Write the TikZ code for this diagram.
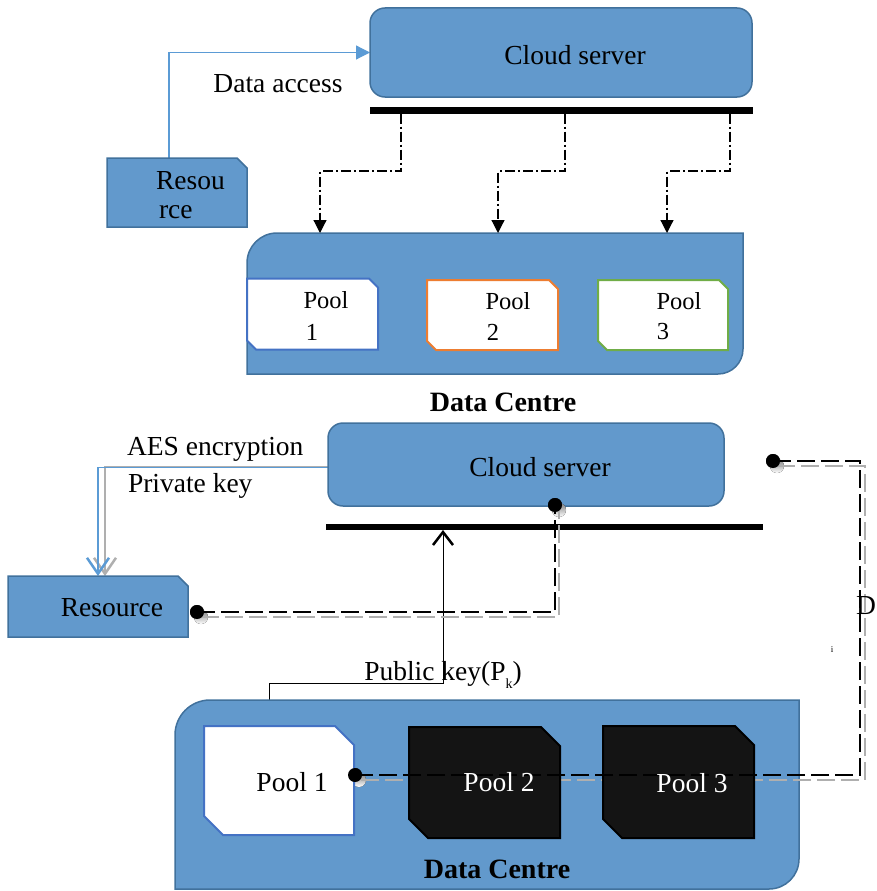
\documentclass[tikz,border=0pt]{standalone}
\usepackage{fontspec}
\setmainfont{Liberation Serif}
\usetikzlibrary{arrows.meta,calc}
\definecolor{boxfill}{RGB}{98,153,204}
\definecolor{boxline}{RGB}{65,113,156}
\definecolor{linkblue}{RGB}{91,155,213}
\definecolor{poolblue}{RGB}{68,114,196}
\definecolor{poolorange}{RGB}{237,125,49}
\definecolor{poolgreen}{RGB}{112,173,71}
\definecolor{poolblack}{RGB}{20,20,20}
\definecolor{shade}{RGB}{175,175,175}
\newcommand\snipNE[3]{\path[#3] (#1.north west) -- ([xshift=-#2]#1.north east) -- ([yshift=-#2]#1.north east) -- (#1.south east) -- (#1.south west) -- cycle;}
\newcommand\snipTwo[3]{\path[#3] (#1.north west) -- ([xshift=-#2]#1.north east) -- ([yshift=-#2]#1.north east) -- (#1.south east) -- ([xshift=#2]#1.south west) -- ([yshift=#2]#1.south west) -- cycle;}
\begin{document}
\begin{tikzpicture}[x=1pt,y=-1pt,
  every node/.style={inner sep=0pt, outer sep=0pt, font=\fontsize{27.5}{30}\selectfont},
  area/.style 2 args={minimum width=#1pt, minimum height=#2pt},
  serverbox/.style={draw=boxline, fill=boxfill, line width=1.5pt, rounded corners=15pt},
  barbox/.style={fill=black, draw=none},
  shapefill/.style={draw=boxline, fill=boxfill, line width=1.5pt},
  ddlink/.style={line width=1.2pt, dash pattern=on 10pt off 3pt on 2pt off 3pt, -{Triangle[length=13pt,width=13pt]}},
  bluelink/.style={draw=linkblue, line width=1.2pt, -{Triangle[length=14pt,width=14pt]}},
  aeslink/.style={draw=linkblue, line width=1.3pt, -{Straight Barb[length=16pt,width=22pt,line width=2.5pt]}},
  aesshadow/.style={draw=shade, line width=1.3pt, -{Straight Barb[length=16pt,width=22pt,line width=2.5pt]}},
  pklink/.style={draw=black, line width=1pt, -{Straight Barb[length=13pt,width=20pt,line width=2.5pt]}},
  dline/.style={line width=2.3pt, dash pattern=on 18pt off 6pt},
  dshadow/.style={dline, draw=shade},
  dot/.style={circle, fill=black, minimum size=14pt},
  smalltext/.style={font=\fontsize{24.5}{28}\selectfont},
  boldtext/.style={font=\fontsize{28}{32}\selectfont\bfseries}
]
\useasboundingbox (0,0) rectangle (876,891);

% ---------------- TOP PART ----------------
\node[area={382}{89}] (cs1) at (561,52.5) {};
\node[area={140}{69}] (res1) at (177,192.5) {};
\draw[bluelink] ([xshift=-8pt]res1.north) |- (cs1.west);
\path[serverbox] (cs1.north west) rectangle (cs1.south east);
\node (cs1t) at (575,55) {Cloud server};
\node (da) at (278,84) {Data access};
\snipNE{res1}{10pt}{shapefill}
\node[anchor=west] (r1a) at (156,181) {Resou};
\node[anchor=west] (r1b) at (159,212) {rce};

\node[barbox, area={383}{7}] (bar1) at (561.5,110) {};

\node[area={496}{141}] (dc1) at (495,303.5) {};
\path[shapefill] (dc1.west) [rounded corners=30pt] -- (dc1.north west) -- (dc1.north) [sharp corners] -- (dc1.north east) -- (dc1.east) [rounded corners=25pt] -- (dc1.south east) -- (dc1.south) [sharp corners] -- (dc1.south west) -- cycle;

\coordinate (k1) at (401,171); \coordinate (k1e) at (320,171);
\coordinate (k2) at (565,171); \coordinate (k2e) at (498,171);
\coordinate (k3) at (730,171); \coordinate (k3e) at (667,171);
\draw[ddlink] (bar1.south -| k1) -- (k1) -- (k1e) -- (k1e |- dc1.north);
\draw[ddlink] (bar1.south -| k2) -- (k2) -- (k2e) -- (k2e |- dc1.north);
\draw[ddlink] (bar1.south -| k3) -- (k3) -- (k3e) -- (k3e |- dc1.north);

\node[area={131}{71}] (p1) at (312.5,314) {};
\node[area={131}{70}] (p2) at (492.5,315) {};
\node[area={130}{70}] (p3) at (663,315) {};
\snipTwo{p1}{9pt}{draw=poolblue, fill=white, line width=2pt}
\snipTwo{p2}{9pt}{draw=poolorange, fill=white, line width=2pt}
\snipTwo{p3}{9pt}{draw=poolgreen, fill=white, line width=2pt}
\node[smalltext] (p1a) at (326,300) {Pool};
\node[smalltext] (p1b) at (312,332) {1};
\node[smalltext] (p2a) at (508,301) {Pool};
\node[smalltext] (p2b) at (493,332) {2};
\node[smalltext] (p3a) at (679,301) {Pool};
\node[smalltext] (p3b) at (663,332) {3};
\node[boldtext] (dct1) at (503,402) {Data Centre};

% ---------------- BOTTOM PART ----------------
\node[area={396}{83}] (cs2) at (526,464.5) {};
\node[area={180}{61}] (res2) at (98,606.5) {};
\node[barbox, area={437}{6}] (bar2) at (544.5,527) {};
\node[area={624}{189}] (dc2) at (487,794.5) {};

% AES link with shadow
\draw[aesshadow] ([shift={(7pt,-2pt)}]cs2.west) -| ([xshift=7pt]res2.north);
\draw[aeslink] ([yshift=-3pt]cs2.west) -| (res2.north);

\path[serverbox] (cs2.north west) rectangle (cs2.south east);
\node (cs2t) at (540,467) {Cloud server};
\node[anchor=west] (aes) at (127,449) {AES encryption};
\node[anchor=west] (pk) at (128,486) {Private key};
\snipNE{res2}{10pt}{shapefill}
\node (r2t) at (112,608) {Resource};

% Public key link
\node[area={150}{109}] (bp1) at (279,780.5) {};
\coordinate (pkbend) at (443,683);
\draw[pklink] ([xshift=-10pt]bp1.north) |- (pkbend) -- (pkbend |- bar2.south);
\node (pklabel) at (443,675) {Public key(P\raisebox{-8pt}{\fontsize{14}{14}\selectfont k})};

% Resource <-> Cloud server dashed link
\node[dot] (dotA) at (197,612) {};
\node[dot] (dotB) at (555,505) {};
\coordinate (cA) at (555,612);
\fill[shade] ([shift={(4pt,-5pt)}]dotA.center) circle (7pt);
\fill[shade] ([shift={(4pt,-5pt)}]dotB.center) circle (7pt);
\draw[dshadow] ([shift={(4pt,-5pt)}]dotA.center) -- ([shift={(4pt,-5pt)}]cA) -- ([shift={(4pt,-5pt)}]dotB.center);
\draw[dline] (dotA.center) -- (cA) -- (dotB.center);
\node[dot] at (dotA) {};
\node[dot] at (dotB) {};

% Data centre
\path[shapefill] (dc2.west) [rounded corners=35pt] -- (dc2.north west) -- (dc2.north) [sharp corners] -- (dc2.north east) -- (dc2.east) [rounded corners=30pt] -- (dc2.south east) -- (dc2.south) [sharp corners] -- (dc2.south west) -- cycle;

% Pool link shadow
\node[dot] (dotC) at (773,461) {};
\node[dot] (dotD) at (355,775) {};
\coordinate (cR) at (860,461);
\fill[shade] ([shift={(4pt,-5pt)}]dotC.center) circle (7pt);
\fill[shade] ([shift={(4pt,-5pt)}]dotD.center) circle (7pt);
\draw[dshadow] ([shift={(4pt,-5pt)}]dotC.center) -- ([shift={(5pt,-5pt)}]cR) |- ([shift={(4pt,-5pt)}]dotD.center);

\node[area={151}{111}] (bp2) at (484.5,782.5) {};
\node[area={151}{112}] (bp3) at (678.5,782) {};
\snipTwo{bp1}{19pt}{draw=poolblue, fill=white, line width=2pt}
\snipTwo{bp2}{19pt}{draw=black, fill=poolblack, line width=2pt}
\snipTwo{bp3}{19pt}{draw=black, fill=poolblack, line width=2pt}

\draw[dline] (dotC.center) -- (cR) |- (dotD.center);
\node[dot] at (dotC) {};
\node[dot] at (dotD) {};

\node (bp1t) at (292,782) {Pool 1};
\node[text=white] (bp2t) at (499,782) {Pool 2};
\node[text=white] (bp3t) at (692,783) {Pool 3};
\node[boldtext] (dct2) at (497,869) {Data Centre};
\node (dl) at (866,606) {D};
\node[font=\fontsize{9}{10}\selectfont] (il) at (832,650) {i};
\end{tikzpicture}
\end{document}
